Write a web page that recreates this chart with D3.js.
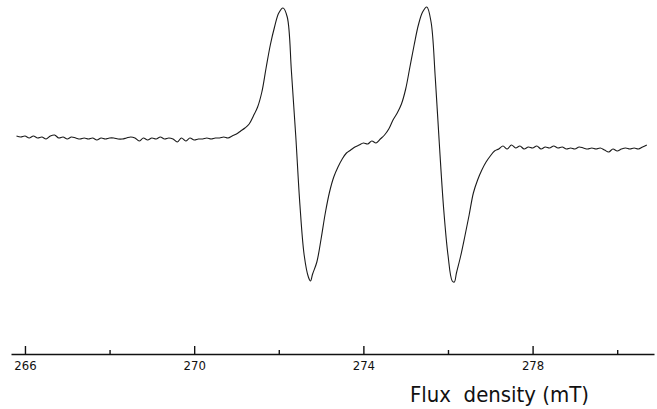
<!DOCTYPE html>
<html>
<head>
<meta charset="utf-8">
<script src="https://cdn.jsdelivr.net/npm/d3@7"></script>
<style>
  html, body { margin: 0; padding: 0; background: #fff; }
  svg { display: block; }
  .lbl { font-family: "DejaVu Sans Condensed", "DejaVu Sans", sans-serif; font-stretch: condensed; fill: #111; }
</style>
</head>
<body>
<svg id="chart"></svg>
<script>
/* Data: EPR-like derivative spectrum */
var field = [
  265.8, 265.9, 266.0, 266.1, 266.2, 266.3, 266.4, 266.5, 266.6, 266.7,
  266.8, 266.9, 267.0, 267.1, 267.2, 267.3, 267.4, 267.5, 267.6, 267.7,
  267.8, 267.9, 268.0, 268.1, 268.2, 268.3, 268.4, 268.5, 268.6, 268.7,
  268.8, 268.9, 269.0, 269.1, 269.2, 269.3, 269.4, 269.5, 269.6, 269.7,
  269.8, 269.9, 270.0, 270.1, 270.2, 270.3, 270.4, 270.5, 270.6, 270.7,
  270.8, 270.9, 271.0, 271.1, 271.2, 271.3, 271.4, 271.5, 271.6, 271.7,
  271.8, 271.9, 272.0, 272.1, 272.2, 272.3, 272.4, 272.5, 272.6, 272.7,
  272.75, 272.8, 272.9, 273.0, 273.1, 273.2, 273.3, 273.4, 273.5, 273.6,
  273.7, 273.8, 273.9, 274.0, 274.1, 274.2, 274.3, 274.4, 274.5, 274.6,
  274.7, 274.8, 274.9, 275.0, 275.1, 275.2, 275.3, 275.4, 275.5, 275.6,
  275.7, 275.8, 275.9, 276.0, 276.1, 276.15, 276.2, 276.3, 276.4, 276.5,
  276.6, 276.7, 276.8, 276.9, 277.0, 277.1, 277.2, 277.3, 277.4, 277.5,
  277.6, 277.7, 277.8, 277.9, 278.0, 278.1, 278.2, 278.3, 278.4, 278.5,
  278.6, 278.7, 278.8, 278.9, 279.0, 279.1, 279.2, 279.3, 279.4, 279.5,
  279.6, 279.7, 279.8, 279.9, 280.0, 280.1, 280.2, 280.3, 280.4, 280.5,
  280.6, 280.7
];
var signal = [
  1, 0, 1, -1, 1, -1, 0, -2, 1, 2,
  -1, 0, -2, 0, -1, -2, -1, -2, -1, -3,
  -1, -2, -1, -1, -2, -2, -1, 0, -1, -4,
  -1, -3, -1, -2, 0, -2, -1, -2, -5, -1,
  -4, -1, -3, -2, -2, -1, -2, -1, -1, 0,
  -1, 1, 3, 6, 9, 13, 21, 30, 45, 69,
  92, 110, 124, 129, 120, 65, 2, -68, -118, -140,
  -144, -137, -125, -102, -76, -55, -40, -30, -22, -16,
  -13, -10, -8, -6, -7, -4, -6, -2, 2, 8,
  17, 24, 33, 48, 70, 92, 112, 125, 130, 115,
  59, -10, -73, -118, -144, -145, -136, -119, -99, -78,
  -56, -43, -33, -25, -19, -14, -12, -9, -12, -8,
  -11, -9, -12, -10, -11, -9, -12, -10, -11, -9,
  -11, -10, -12, -11, -12, -10, -11, -12, -11, -12,
  -11, -13, -15, -12, -14, -12, -11, -12, -11, -12,
  -10, -8
];
var majorTicks = [266, 270, 274, 278];
var minorTicks = [268, 272, 276, 280];
var axisTitle = "Flux\u00a0 density (mT)";

/* SVG properties */
var width = 657;
var height = 409;
var svg = d3.select("#chart")
            .attr("width", width)
            .attr("height", height);

var x = d3.scaleLinear().domain([265.67, 280.87]).range([11, 654]);
var y = d3.scaleLinear().domain([-150, 135]).range([287, 2]);
var axisY = 354;

/* spectrum */
var pts = field.map(function(f, i) { return [f, signal[i]]; });
var line = d3.line()
             .x(function(d) { return x(d[0]); })
             .y(function(d) { return y(d[1]); })
             .curve(d3.curveCatmullRom.alpha(0.5));
svg.append("path")
   .datum(pts)
   .attr("d", line)
   .attr("fill", "none")
   .attr("stroke", "#1a1a1a")
   .attr("stroke-width", 1.1)
   .attr("stroke-linejoin", "round");

/* axis: ticks point up, labels below */
var gMajor = svg.append("g")
                .attr("transform", "translate(0," + axisY + ")")
                .call(d3.axisBottom(x)
                        .tickValues(majorTicks)
                        .tickSizeInner(-8)
                        .tickSizeOuter(0)
                        .tickPadding(7)
                        .tickFormat(d3.format("d")));
var gMinor = svg.append("g")
                .attr("transform", "translate(0," + axisY + ")")
                .call(d3.axisBottom(x)
                        .tickValues(minorTicks)
                        .tickSizeInner(-4)
                        .tickSizeOuter(0)
                        .tickFormat(""));
gMinor.select(".domain").remove();
svg.selectAll(".domain").attr("stroke", "#111").attr("stroke-width", 1.6);
svg.selectAll(".tick line").attr("stroke", "#111").attr("stroke-width", 1.4);
gMajor.selectAll("text")
      .attr("class", "lbl")
      .attr("font-size", 13)
      .attr("fill", "#111");

svg.append("text")
   .attr("class", "lbl")
   .attr("x", 410)
   .attr("y", 402)
   .attr("font-size", 21)
   .attr("textLength", 179)
   .attr("lengthAdjust", "spacingAndGlyphs")
   .text(axisTitle);
</script>
</body>
</html>
